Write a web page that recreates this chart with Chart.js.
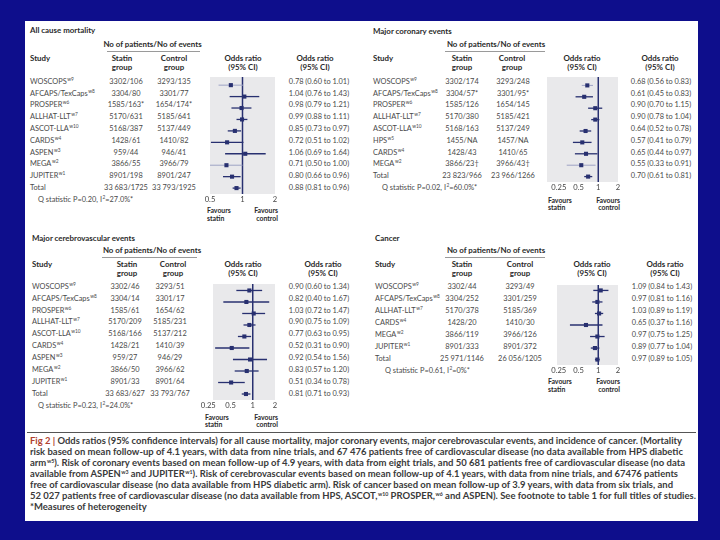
<!DOCTYPE html>
<html><head><meta charset="utf-8">
<script src="https://cdn.jsdelivr.net/npm/chart.js@4.4.1/dist/chart.umd.min.js"></script>
<style>
html,body{margin:0;padding:0}
body{width:720px;height:540px;background:#0e0e8c;position:relative;overflow:hidden;font-family:Lato,"Open Sans",sans-serif}
#panel{position:absolute;left:25px;top:21px;width:673px;height:500px;background:#fff}
.t{position:absolute;white-space:nowrap;font-size:7.4px;line-height:6.4px;color:#4a4a4a}
.b{font-weight:700;color:#2a2a2a;font-size:7.9px}
.f{font-weight:700;color:#2a2a2a;font-size:6.9px;line-height:6px}
.s{font-size:4.8px;position:relative;top:-3px;margin-left:0.5px}
canvas{position:absolute}
.hl{position:absolute;height:1px;background:#9a9a9a}
.cap{position:absolute;left:30px;white-space:nowrap;font-size:8.6px;line-height:9px;font-weight:700;color:#3a3a3a;transform-origin:0 50%}
</style></head><body>
<div id="panel"></div>
<script>
// ---------- DATA ----------
const mortStudies=["WOSCOPS","AFCAPS/TexCaps","PROSPER","ALLHAT-LLT","ASCOT-LLA","CARDS","ASPEN","MEGA","JUPITER","Total"];
const mortRefs=["w9","w8","w6","w7","w10","w4","w3","w2","w1",""];
const mortStatin=["3302/106","3304/80","1585/163*","5170/631","5168/387","1428/61","959/44","3866/55","8901/198","33 683/1725"];
const mortControl=["3293/135","3301/77","1654/174*","5185/641","5137/449","1410/82","946/41","3966/79","8901/247","33 793/1925"];
const mortOR=[0.78,1.04,0.98,0.99,0.85,0.72,1.06,0.71,0.80,0.88];
const mortLow=[0.60,0.76,0.79,0.88,0.73,0.51,0.69,0.50,0.66,0.81];
const mortHigh=[1.01,1.43,1.21,1.11,0.97,1.02,1.64,1.00,0.96,0.96];
const mortQP="0.20", mortI2="27.0";
const mortTicks=[0.5,1,2];

const corStudies=["WOSCOPS","AFCAPS/TexCaps","PROSPER","ALLHAT-LLT","ASCOT-LLA","HPS","CARDS","MEGA","Total"];
const corRefs=["w9","w8","w6","w7","w10","w5","w4","w2",""];
const corStatin=["3302/174","3304/57*","1585/126","5170/380","5168/163","1455/NA","1428/43","3866/23†","23 823/966"];
const corControl=["3293/248","3301/95*","1654/145","5185/421","5137/249","1457/NA","1410/65","3966/43†","23 966/1266"];
const corOR=[0.68,0.61,0.90,0.90,0.64,0.57,0.65,0.55,0.70];
const corLow=[0.56,0.45,0.70,0.78,0.52,0.41,0.44,0.33,0.61];
const corHigh=[0.83,0.83,1.15,1.04,0.78,0.79,0.97,0.91,0.81];
const corQP="0.02", corI2="60.0";
const corTicks=[0.25,0.5,1,2];

const cerStudies=["WOSCOPS","AFCAPS/TexCaps","PROSPER","ALLHAT-LLT","ASCOT-LLA","CARDS","ASPEN","MEGA","JUPITER","Total"];
const cerRefs=["w9","w8","w6","w7","w10","w4","w3","w2","w1",""];
const cerStatin=["3302/46","3304/14","1585/61","5170/209","5168/166","1428/21","959/27","3866/50","8901/33","33 683/627"];
const cerControl=["3293/51","3301/17","1654/62","5185/231","5137/212","1410/39","946/29","3966/62","8901/64","33 793/767"];
const cerOR=[0.90,0.82,1.03,0.90,0.77,0.52,0.92,0.83,0.51,0.81];
const cerLow=[0.60,0.40,0.72,0.75,0.63,0.31,0.54,0.57,0.34,0.71];
const cerHigh=[1.34,1.67,1.47,1.09,0.95,0.90,1.56,1.20,0.78,0.93];
const cerQP="0.23", cerI2="24.0";
const cerTicks=[0.25,0.5,1,2];

const canStudies=["WOSCOPS","AFCAPS/TexCaps","ALLHAT-LLT","CARDS","MEGA","JUPITER","Total"];
const canRefs=["w9","w8","w7","w4","w2","w1",""];
const canStatin=["3302/44","3304/252","5170/378","1428/20","3866/119","8901/333","25 971/1146"];
const canControl=["3293/49","3301/259","5185/369","1410/30","3966/126","8901/372","26 056/1205"];
const canOR=[1.09,0.97,1.03,0.65,0.97,0.89,0.97];
const canLow=[0.84,0.81,0.89,0.37,0.75,0.77,0.89];
const canHigh=[1.43,1.16,1.19,1.16,1.25,1.04,1.05];
const canQP="0.61", canI2="0";
const canTicks=[0.25,0.5,1,2];

// ---------- STYLE / LAYOUT ----------
const NAVY="#283070", LIGHT="#9ea3c4", GREY="#e9e9eb";
const L_TL={title:"All cause mortality",tx:30,ty:30,noC:152.5,noY:43.5,ul:[107,200,51],sx:30,h1:57.5,h2:66.5,stH:122,stC:126,coH:174,coC:174,plH:243,orH:315,orC:319,r0:81.7,s:11.8,qx:38,fav:[207,278,209.8,217.6],gL:210,gR:275,T:73.3,B:194,min:0.5,max:2,light:[0,7]};
const L_TR={title:"Major coronary events",tx:373,ty:31,noC:496,noY:44,ul:[445,545,51],sx:373,h1:57.5,h2:66.5,stH:462,stC:462,coH:512,coC:513,plH:582,orH:660,orC:661,r0:81.7,s:11.8,qx:382,fav:[548,620,199.5,207.3],gL:547,gR:618,T:73,B:181.7,min:0.165,max:2,light:[0,7]};
const L_BL={title:"Major cerebrovascular events",tx:32,ty:238,noC:152,noY:250,ul:[102,197,257],sx:32,h1:264,h2:273,stH:127,stC:125,coH:173,coC:170,plH:243,orH:323,orC:319,r0:286.7,s:11.9,qx:38,fav:[205,278,416.5,424.3],gL:213,gR:275,T:280,B:400,min:0.29,max:2,light:[]};
const L_BR={title:"Cancer",tx:375,ty:238,noC:496,noY:250,ul:[445,545,257],sx:375,h1:264,h2:273,stH:462,stC:462,coH:520,coC:520,plH:592,orH:665,orC:662,r0:286.7,s:12.1,qx:385,fav:[548,620,381,388.8],gL:557,gR:618,T:281,B:365,min:0.235,max:2,light:[]};

function T(x,y,html,a,cls){
  const d=document.createElement('div');
  d.className='t'+(cls?' '+cls:'');
  d.innerHTML=html;
  d.style.left=x+'px';d.style.top=y+'px';
  const tx=a==='c'?'-50%':a==='r'?'-100%':'0';
  d.style.transform='translate('+tx+',-50%)';
  document.body.appendChild(d);return d;
}
function HL(x1,x2,y,col){const d=document.createElement('div');d.className='hl';d.style.left=x1+'px';d.style.top=y+'px';d.style.width=(x2-x1)+'px';if(col)d.style.background=col;document.body.appendChild(d);}
const f2=v=>v.toFixed(2);

const bgPlugin={id:'bg',beforeDatasetsDraw(ch){
  const a=ch.chartArea,ctx=ch.ctx;ctx.save();
  ctx.fillStyle=GREY;ctx.fillRect(a.left,a.top,a.right-a.left,a.bottom-a.top);
  const x=ch.scales.x.getPixelForValue(1);
  ctx.strokeStyle=NAVY;ctx.lineWidth=1.5;ctx.beginPath();ctx.moveTo(x,a.top);ctx.lineTo(x,a.bottom);ctx.stroke();
  ctx.restore();}};

function forest(L,or,lo,hi,ticks){
  const PAD=20,AX=11;
  const c=document.createElement('canvas');
  const w=Math.round(L.gR-L.gL+2*PAD),h=Math.round(L.B-L.T+AX);
  c.width=w;c.height=h;c.style.width=w+'px';c.style.height=h+'px';
  c.style.left=(L.gL-PAD)+'px';c.style.top=L.T+'px';
  document.body.appendChild(c);
  const yMin=(L.T-L.r0)/L.s,yMax=(L.B-L.r0)/L.s;
  const ds=[{data:or.map((v,i)=>({x:v,y:i})),pointStyle:'rect',pointRadius:2.9,pointBackgroundColor:NAVY,pointBorderWidth:0,showLine:false}];
  lo.forEach((v,i)=>{const lt=L.light.includes(i);
    ds.push({data:[{x:v,y:i},{x:hi[i],y:i}],showLine:true,pointRadius:0,borderColor:lt?LIGHT:NAVY,borderWidth:lt?1:1.3});});
  new Chart(c,{type:'scatter',data:{datasets:ds},
    options:{responsive:false,animation:false,devicePixelRatio:1,
      layout:{padding:{left:PAD,right:PAD,top:0,bottom:0}},
      plugins:{legend:{display:false},tooltip:{enabled:false}},
      scales:{
        x:{type:'logarithmic',min:L.min,max:L.max,
           afterBuildTicks:s=>{s.ticks=ticks.map(v=>({value:v}));},
           afterFit:s=>{s.height=AX;},
           grid:{display:false,drawTicks:false},border:{display:false},
           ticks:{autoSkip:false,maxRotation:0,padding:1,color:'#444',font:{family:'Lato',size:7.6},callback:v=>String(v)}},
        y:{type:'linear',display:false,reverse:true,min:yMin,max:yMax}}},
    plugins:[bgPlugin]});
}

function panel(L,studies,refs,statin,control,or,lo,hi,qp,i2,ticks){
  T(L.tx,L.ty,L.title,'l','b');
  T(L.noC,L.noY,'No of patients/No of events','c','b');
  HL(L.ul[0],L.ul[1],L.ul[2]);
  T(L.sx,L.h1,'Study','l','b');
  T(L.stH,L.h1,'Statin','c','b');T(L.stH,L.h2,'group','c','b');
  T(L.coH,L.h1,'Control','c','b');T(L.coH,L.h2,'group','c','b');
  T(L.plH,L.h1,'Odds ratio','c','b');T(L.plH,L.h2,'(95% CI)','c','b');
  T(L.orH,L.h1,'Odds ratio','c','b');T(L.orH,L.h2,'(95% CI)','c','b');
  studies.forEach((st,i)=>{
    const y=L.r0+i*L.s;
    T(L.sx,y,st+(refs[i]?'<span class="s">'+refs[i]+'</span>':''),'l');
    T(L.stC,y,statin[i],'c');
    T(L.coC,y,control[i],'c');
    T(L.orC,y,f2(or[i])+' ('+f2(lo[i])+' to '+f2(hi[i])+')','c');
  });
  T(L.qx,L.r0+studies.length*L.s,'Q statistic P='+qp+', I<span class="s">2</span>='+i2+'%*','l');
  T(L.fav[0],L.fav[2],'Favours','l','f');T(L.fav[0],L.fav[3],'statin','l','f');
  T(L.fav[1],L.fav[2],'Favours','r','f');T(L.fav[1],L.fav[3],'control','r','f');
  forest(L,or,lo,hi,ticks);
}

panel(L_TL,mortStudies,mortRefs,mortStatin,mortControl,mortOR,mortLow,mortHigh,mortQP,mortI2,mortTicks);
panel(L_TR,corStudies,corRefs,corStatin,corControl,corOR,corLow,corHigh,corQP,corI2,corTicks);
panel(L_BL,cerStudies,cerRefs,cerStatin,cerControl,cerOR,cerLow,cerHigh,cerQP,cerI2,cerTicks);
panel(L_BR,canStudies,canRefs,canStatin,canControl,canOR,canLow,canHigh,canQP,canI2,canTicks);

// ---------- CAPTION ----------
HL(27,696,432,'#555');
const capLines=[
 '<span style="color:#b0402e">Fig 2 |</span> Odds ratios (95% confidence intervals) for all cause mortality, major coronary events, major cerebrovascular events, and incidence of cancer. (Mortality',
 'risk based on mean follow-up of 4.1 years, with data from nine trials, and 67 476 patients free of cardiovascular disease (no data available from HPS diabetic',
 'arm<span class="s">w5</span>). Risk of coronary events based on mean follow-up of 4.9 years, with data from eight trials, and 50 681 patients free of cardiovascular disease (no data',
 'available from ASPEN<span class="s">w3</span> and JUPITER<span class="s">w1</span>). Risk of cerebrovascular events based on mean follow-up of 4.1 years, with data from nine trials, and 67476 patients',
 'free of cardiovascular disease (no data available from HPS diabetic arm). Risk of cancer based on mean follow-up of 3.9 years, with data from six trials, and',
 '52 027 patients free of cardiovascular disease (no data available from HPS, ASCOT,<span class="s">w10</span> PROSPER,<span class="s">w6</span> and ASPEN). See footnote to table 1 for full titles of studies.',
 '*Measures of heterogeneity'];
const capEnds=[682,683,685,678,673,696,null];
const els=[];let sum=0,cnt=0;
capLines.forEach((h,i)=>{
  const d=document.createElement('div');d.className='cap';d.innerHTML=h;
  d.style.top=(441+i*11-4.5)+'px';document.body.appendChild(d);els.push(d);
});
els.forEach((d,i)=>{ if(capEnds[i]){const k=(capEnds[i]-30)/d.getBoundingClientRect().width;d.style.transform='scaleX('+k+')';sum+=k;cnt++;}});
els[6].style.transform='scaleX('+(sum/cnt)+')';
</script>
</body></html>
